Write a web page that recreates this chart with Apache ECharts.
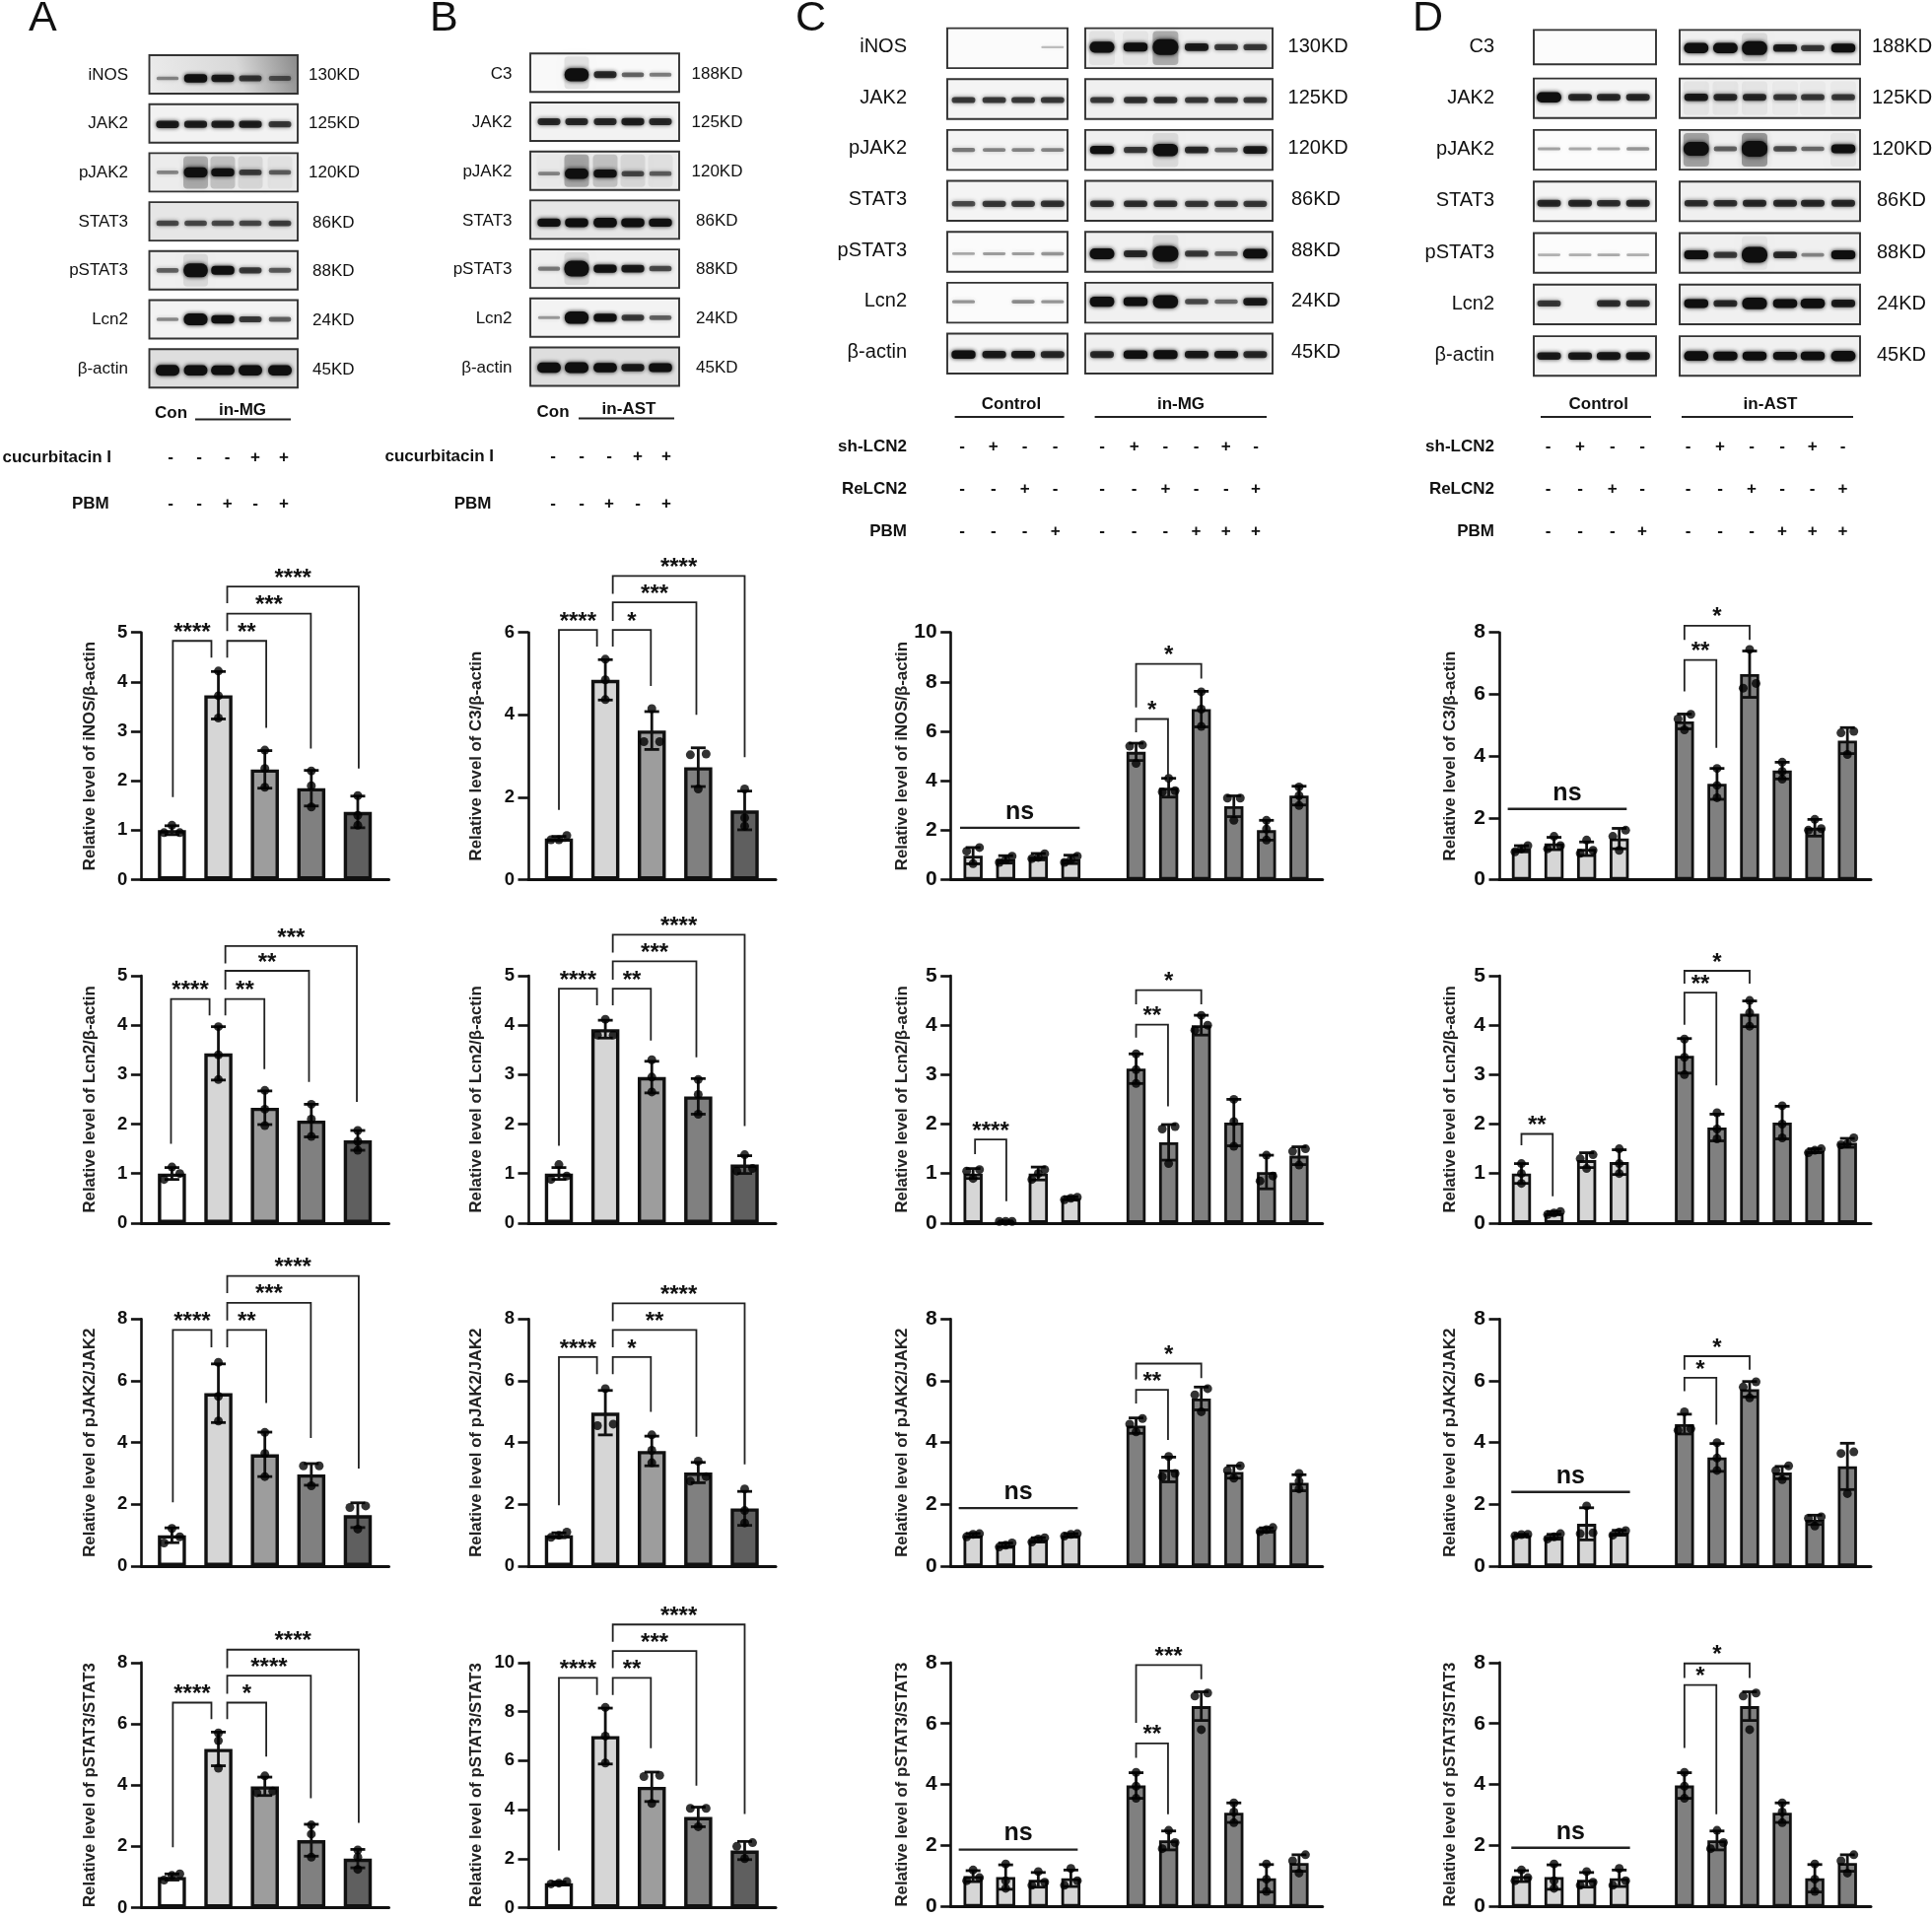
<!DOCTYPE html>
<html><head><meta charset="utf-8">
<style>html,body{margin:0;padding:0;background:#fff}#c{width:1960px;height:1945px;filter:blur(.45px)}</style>
<script src="https://cdn.jsdelivr.net/npm/echarts@6/dist/echarts.min.js"></script>
</head><body><div id="c"></div>
<script>
// ---------- tick / title text ----------
const nameINOS='Relative level of iNOS/β-actin', nameC3='Relative level of C3/β-actin', nameLcn2='Relative level of Lcn2/β-actin',
      namePJ='Relative level of pJAK2/JAK2', namePS='Relative level of pSTAT3/STAT3';
// ---------- bar groups: x positions ----------
const xFive=[1,2,3,4,5], xTen=[1,2,3,4,6,7,8,9,10,11];
const colFive=['#ffffff','#d6d6d6','#9d9d9d','#808080','#5f5f5f'];
const colTen=['#d6d6d6','#d6d6d6','#d6d6d6','#d6d6d6','#808080','#808080','#808080','#808080','#808080','#808080'];
// ---------- panel A ----------
const barsA1=[1,3.73,2.23,1.85,1.37], errsA1=[.09,.48,.38,.36,.32], ptsA1=[[1.1,.95,.95],[4.22,3.72,3.27],[2.62,2.25,1.87],[2.2,1.9,1.47],[1.7,1.3,1.1]];
const barsA2=[1,3.43,2.33,2.07,1.67], errsA2=[.12,.54,.34,.33,.2], ptsA2=[[1.13,1,.88],[3.97,3.4,2.9],[2.68,2.3,1.97],[2.4,2.1,1.75],[1.87,1.65,1.47]];
const barsA3=[1,5.6,3.62,2.97,1.65], errsA3=[.24,.95,.72,.35,.4], ptsA3=[[1.22,.95,.75],[6.6,5.5,4.7],[4.33,3.65,2.9],[3.25,3.25,2.6],[1.95,1.9,1.2]];
const barsA4=[1,5.18,3.96,2.2,1.6], errsA4=[.1,.55,.3,.52,.3], ptsA4=[[1.1,1.05,.9],[5.7,5.45,4.55],[4.3,3.8,3.75],[2.7,2.4,1.65],[1.88,1.65,1.25]];
const brA1=[[1.02,1.85,4.83,1.67,4.49,'****'],[2.19,3.03,4.83,4.49,3.07,'**'],[2.19,3.99,5.38,5.03,2.65,'***'],[2.19,5.02,5.93,5.59,2.25,'****']];
const brA2=[[.98,1.81,4.53,1.6,4.2,'****'],[2.15,2.99,4.53,4.2,3.11,'**'],[2.15,3.95,5.1,4.72,2.85,'**'],[2.15,4.98,5.6,5.25,2.45,'***']];
const brA3=[[1.02,1.85,7.65,2.07,7.09,'****'],[2.19,3.03,7.65,7.09,5.28,'**'],[2.19,3.99,8.53,7.96,4.15,'***'],[2.19,5.02,9.4,8.84,3.16,'****']];
const brA4=[[1.02,1.85,6.69,1.97,6.15,'****'],[2.19,3.03,6.69,6.15,4.93,'*'],[2.19,3.99,7.57,6.98,3.57,'****'],[2.19,5.02,8.42,7.82,2.77,'****']];
// ---------- panel B ----------
const barsB1=[1,4.85,3.62,2.73,1.68], errsB1=[.05,.49,.46,.47,.47], ptsB1=[[1.07,.97,.97],[5.35,4.85,4.37],[4.15,3.35,3.35],[3.05,3.03,2.2],[2.2,1.5,1.3]];
const barsB2=[1,3.92,2.95,2.56,1.18], errsB2=[.12,.18,.32,.36,.18], ptsB2=[[1.18,.95,.88],[4.12,3.8,3.8],[3.3,2.95,2.65],[2.9,2.6,2.2],[1.38,1.1,1.05]];
const barsB3=[1,4.97,3.73,3.03,1.87], errsB3=[.08,.72,.48,.33,.55], ptsB3=[[1.1,1,.93],[5.75,4.6,4.55],[4.25,3.75,3.35],[3.4,2.9,2.75],[2.5,1.8,1.4]];
const barsB4=[1,7,4.93,3.7,2.33], errsB4=[.05,1.14,.6,.4,.37], ptsB4=[[1.07,1,.97],[8.17,7,5.9],[5.4,5.35,4.25],[4.05,4.05,3.3],[2.65,2.5,2]];
const brB1=[[1,1.82,6.06,1.69,5.66,'****'],[2.16,2.98,6.06,5.66,4.7,'*'],[2.16,3.96,6.73,6.28,4,'***'],[2.16,5,7.37,6.94,2.97,'****']];
const brB2=[[1,1.82,4.74,1.56,4.4,'****'],[2.16,2.98,4.74,4.4,3.69,'**'],[2.16,3.96,5.29,4.92,3.35,'***'],[2.16,5,5.83,5.47,1.96,'****']];
const brB3=[[1,1.82,6.77,1.97,6.22,'****'],[2.16,2.98,6.77,6.22,5,'*'],[2.16,3.96,7.65,7.09,4.19,'**'],[2.16,5,8.51,7.93,3.3,'****']];
const brB4=[[1,1.82,9.37,2.33,8.68,'****'],[2.16,2.98,9.37,8.68,6.5,'**'],[2.16,3.96,10.47,9.77,4.98,'***'],[2.16,5,11.55,10.85,3.82,'****']];
// ---------- panel C ----------
const barsC1=[.97,.82,.93,.82,5.17,3.72,6.9,2.97,2,3.4], errsC1=[.33,.15,.13,.17,.35,.38,.72,.42,.4,.38];
const ptsC1=[[1.3,1.15,.65],[.95,.8,.7],[1.05,.9,.85],[.95,.8,.7],[5.45,5.4,4.7],[4.1,3.6,3.55],[7.6,6.9,6.2],[3.3,3.3,2.4],[2.4,2.05,1.6],[3.75,3.4,3]];
const barsC2=[1,.03,1,.5,3.12,1.63,4,2.03,1.03,1.36], errsC2=[.1,.01,.13,.03,.3,.36,.2,.47,.34,.18];
const ptsC2=[[1.08,1.05,.9],[.03,.03,.03],[1.08,1,.88],[.52,.5,.47],[3.42,3.1,2.82],[1.95,1.9,1.2],[4.2,4,3.9],[2.5,2.05,1.55],[1.37,.95,.85],[1.5,1.45,1.17]];
const barsC3=[1,.68,.85,1,4.55,3.13,5.43,3.05,1.17,2.7], errsC3=[.06,.07,.07,.05,.25,.4,.37,.2,.07,.26];
const ptsC3=[[1.05,1.03,.95],[.75,.68,.62],[.92,.88,.78],[1.05,1.03,.97],[4.78,4.6,4.35],[3.55,3,2.9],[5.75,5.55,5],[3.25,3.1,2.85],[1.25,1.18,1.12],[3,2.75,2.5]];
const barsC4=[1,.97,.88,.93,3.97,2.17,6.57,3.08,.93,1.43], errsC4=[.18,.4,.24,.27,.42,.31,.47,.32,.45,.27];
const ptsC4=[[1.2,.95,.85],[1.4,.85,.6],[1.15,.8,.7],[1.25,.85,.7],[4.4,3.95,3.55],[2.5,2.1,1.9],[7,6.9,5.8],[3.4,3.1,2.75],[1.4,.9,.5],[1.7,1.5,1.1]];
const brC1=[[6,6.98,6.5,5.96,3.97,'*'],[6,8,8.73,6.97,8.13,'*']], nsC1=[.6,4.27,2.1];
const brC2=[[1.06,2.02,1.69,1.39,.44,'****'],[6,6.98,4.01,3.75,2.36,'**'],[6,8,4.71,4.42,4.42,'*']];
const brC3=[[6,6.98,5.71,5.27,4.09,'**'],[6,8,6.56,6.05,6.09,'*']], nsC3=[.56,4.21,1.88];
const brC4=[[6,6.98,5.35,4.88,3.03,'**'],[6,8,7.92,6.02,7.45,'***']], nsC4=[.56,4.21,1.87];
// ---------- panel D ----------
const barsD1=[1,1.17,1,1.33,5.12,3.1,6.65,3.53,1.68,4.5], errsD1=[.1,.2,.22,.33,.24,.5,.75,.27,.27,.42];
const ptsD1=[[1.1,1,.9],[1.4,1.1,1],[1.28,.95,.85],[1.6,1.4,.95],[5.35,5.2,4.85],[3.6,3.05,2.65],[7.45,6.35,6.2],[3.8,3.5,3.25],[1.95,1.65,1.6],[4.8,4.75,4.05]];
const barsD2=[1,.2,1.27,1.23,3.38,1.93,4.23,2.03,1.46,1.62], errsD2=[.2,.03,.15,.25,.35,.27,.26,.33,.04,.09];
const ptsD2=[[1.2,1,.8],[.23,.2,.17],[1.38,1.3,1.1],[1.5,1.2,1],[3.72,3.35,3],[2.23,1.9,1.7],[4.5,4.25,3.98],[2.37,2,1.72],[1.5,1.47,1.42],[1.72,1.6,1.58]];
const barsD3=[1,.95,1.37,1.08,4.6,3.52,5.73,3.03,1.5,3.23], errsD3=[.03,.08,.52,.08,.32,.45,.25,.2,.15,.75];
const ptsD3=[[1.03,1.02,.98],[1.05,.95,.88],[1.95,1.08,1.05],[1.15,1.1,1],[5,4.45,4.4],[4,3.5,3.1],[5.97,5.8,5.45],[3.25,3.1,2.8],[1.6,1.55,1.3],[3.7,3.65,2.35]];
const barsD4=[1,.97,.88,.93,3.97,2.17,6.57,3.08,.93,1.43], errsD4=[.18,.4,.24,.27,.42,.31,.47,.32,.45,.27];
const ptsD4=[[1.2,.95,.85],[1.4,.85,.6],[1.15,.8,.7],[1.25,.85,.7],[4.4,3.95,3.55],[2.5,2.1,1.9],[7,6.9,5.8],[3.4,3.1,2.75],[1.4,.9,.5],[1.7,1.5,1.1]];
const brD1=[[6,6.98,7.11,6.09,4.27,'**'],[6,8,8.22,7.76,7.76,'*']], nsD1=[.58,4.23,2.29];
const brD2=[[1,1.96,1.8,1.57,.54,'**'],[6,6.98,4.66,4.01,2.78,'**'],[6,8,5.1,4.84,4.84,'*']];
const brD3=[[6,6.98,6.1,5.67,4.58,'*'],[6,8,6.8,6.36,6.36,'*']], nsD3=[.69,4.33,2.4];
const brD4=[[6,6.98,7.26,5.2,3.03,'*'],[6,8,7.97,7.49,7.49,'*']], nsD4=[.69,4.33,1.93];
// ---------- blot band strengths, per lane ----------
const blotNamesAC=['iNOS','JAK2','pJAK2','STAT3','pSTAT3','Lcn2','β-actin'];
const blotNamesBD=['C3','JAK2','pJAK2','STAT3','pSTAT3','Lcn2','β-actin'];
const kdAC=['130KD','125KD','120KD','86KD','88KD','24KD','45KD'];
const kdBD=['188KD','125KD','120KD','86KD','88KD','24KD','45KD'];
const bandsA=[[.12,.45,.4,.3,.2],[.4,.38,.38,.38,.3],[.12,.6,.45,.28,.2],[.25,.25,.25,.25,.28],[.2,.85,.5,.3,.22],[.12,.7,.45,.3,.2],[.65,.6,.55,.6,.6]];
const bandsB=[[0,.8,.35,.2,.15],[.35,.35,.35,.38,.35],[.12,.6,.45,.25,.2],[.45,.5,.55,.5,.45],[.15,1,.45,.4,.25],[.08,.75,.45,.3,.2],[.6,.65,.55,.4,.5]];
const bandsC1=[[0,0,0,.015],[.3,.3,.3,.3],[.15,.13,.13,.13],[.25,.3,.3,.32],[.06,.08,.08,.1],[.1,0,.12,.1],[.45,.4,.4,.35]];
const bandsC2=[[.65,.5,1,.4,.3,.3],[.3,.32,.33,.3,.3,.3],[.45,.3,.75,.35,.2,.4],[.33,.33,.33,.3,.3,.3],[.65,.35,1,.3,.2,.55],[.6,.5,.8,.25,.18,.4],[.35,.45,.5,.4,.4,.35]];
const bandsD1=[[0,0,0,0],[.6,.35,.35,.35],[.07,.06,.06,.1],[.35,.35,.33,.35],[.04,.05,.06,.05],[.3,0,.33,.33],[.4,.4,.42,.42]];
const bandsD2=[[.6,.6,.85,.4,.3,.5],[.4,.35,.35,.3,.3,.3],[.85,.2,1,.25,.18,.5],[.33,.33,.35,.35,.35,.35],[.5,.3,1,.35,.13,.5],[.5,.35,.7,.5,.55,.4],[.55,.5,.5,.45,.48,.6]];
const smearA=[[0,0,0,0,0],[0,0,0,0,0],[0,.3,.2,.1,.05],[0,0,0,0,0],[0,.1,0,0,0],[0,0,0,0,0],[0,0,0,0,0]];
const smearB=[[0,.1,0,0,0],[0,0,0,0,0],[.02,.32,.2,.1,.06],[0,0,0,0,0],[0,.1,0,0,0],[0,0,0,0,0],[0,0,0,0,0]];
const smearC2=[[.06,.05,.3,0,0,0],[0,0,0,0,0,0],[0,0,.1,0,0,0],[0,0,0,0,0,0],[0,0,.1,0,0,0],[0,0,0,0,0,0],[0,0,0,0,0,0]];
const smearD2=[[0,0,.1,0,0,0],[.05,.05,.05,.03,.03,.03],[.35,0,.4,0,0,.05],[0,0,0,0,0,0],[0,0,.05,0,0,0],[0,0,0,0,0,0],[0,0,0,0,0,0]];
// ---------- treatment rows ----------
const cuc=['-','-','-','+','+'], pbmFive=['-','-','+','-','+'];
const shLcn=['-','+','-','-','-','+','-','-','+','-'], reLcn=['-','-','+','-','-','-','+','-','-','+'], pbmTen=['-','-','-','+','-','-','-','+','+','+'];

const FF='"Liberation Sans",Arial,sans-serif', FN='"Liberation Sans Narrow","Liberation Sans",Arial,sans-serif';
const rowsY=[[641.7,892.5],[990,1240.8],[1338.4,1589],[1686.8,1937.6]];
const cols={A:[143.4,394.5],B:[536,787],C:[964.7,1341.7],D:[1521,1898]};

const charts=[
 ['A',0,nameINOS,5,1,barsA1,errsA1,ptsA1,brA1],['A',1,nameLcn2,5,1,barsA2,errsA2,ptsA2,brA2],['A',2,namePJ,8,2,barsA3,errsA3,ptsA3,brA3],['A',3,namePS,8,2,barsA4,errsA4,ptsA4,brA4],
 ['B',0,nameC3,6,2,barsB1,errsB1,ptsB1,brB1],['B',1,nameLcn2,5,1,barsB2,errsB2,ptsB2,brB2],['B',2,namePJ,8,2,barsB3,errsB3,ptsB3,brB3],['B',3,namePS,10,2,barsB4,errsB4,ptsB4,brB4],
 ['C',0,nameINOS,10,2,barsC1,errsC1,ptsC1,brC1,nsC1],['C',1,nameLcn2,5,1,barsC2,errsC2,ptsC2,brC2],['C',2,namePJ,8,2,barsC3,errsC3,ptsC3,brC3,nsC3],['C',3,namePS,8,2,barsC4,errsC4,ptsC4,brC4,nsC4],
 ['D',0,nameC3,8,2,barsD1,errsD1,ptsD1,brD1,nsD1],['D',1,nameLcn2,5,1,barsD2,errsD2,ptsD2,brD2],['D',2,namePJ,8,2,barsD3,errsD3,ptsD3,brD3,nsD3],['D',3,namePS,8,2,barsD4,errsD4,ptsD4,brD4,nsD4]
];

const grid=[],xAxis=[],yAxis=[],series=[];
function swarm(vals,thresh,off){
  const idx=vals.map((v,i)=>[v,i]).sort((a,b)=>a[0]-b[0]);const res=new Array(vals.length).fill(0);let g=[idx[0]];
  const flush=()=>{g.forEach((e,k)=>{res[e[1]]=g.length===1?0:(k/(g.length-1)*2-1)*off;});};
  for(let i=1;i<idx.length;i++){if(idx[i][0]-g[g.length-1][0]<thresh)g.push(idx[i]);else{flush();g=[idx[i]];}}
  flush();return res;
}
charts.forEach((c,n)=>{
  const [col,row,name,max,step,bars,errs,pts,br,ns]=c;
  const five=bars.length===5, xs=five?xFive:xTen, colors=five?colFive:colTen;
  const [l,r]=cols[col],[t,b]=rowsY[row];
  grid.push({left:l,width:r-l,top:t,height:b-t,containLabel:false});
  const xmin=five?.342:.32,xmax=five?5.669:11.72;
  xAxis.push({type:'value',gridIndex:n,min:xmin,max:xmax,axisLine:{show:true,onZero:false,lineStyle:{color:'#111',width:3}},axisTick:{show:false},axisLabel:{show:false},splitLine:{show:false}});
  yAxis.push({type:'value',gridIndex:n,min:0,max:max,interval:step,name:name,nameLocation:'middle',nameGap:five?44:41,nameRotate:90,
    nameTextStyle:{fontFamily:FF,fontWeight:'bold',fontSize:16.8,color:'#222'},
    axisLine:{show:true,onZero:false,lineStyle:{color:'#111',width:2.6}},axisTick:{show:true,length:10.5,lineStyle:{color:'#111',width:2.6}},
    axisLabel:{margin:14,fontFamily:five?FF:FN,fontWeight:'bold',fontSize:five?18.5:21,color:'#111'},splitLine:{show:false}});
  const barW=five?28.5:19.4,bw=five?3.4:2.8;
  series.push({type:'bar',xAxisIndex:n,yAxisIndex:n,barWidth:barW,silent:true,animation:false,
    data:bars.map((v,i)=>({value:[xs[i],v],itemStyle:{color:colors[i],borderColor:'#111',borderWidth:bw}}))});
  const cap=7.5;
  series.push({type:'custom',xAxisIndex:n,yAxisIndex:n,silent:true,animation:false,z:3,
    data:bars.map((v,i)=>[xs[i],v,errs[i]]),
    renderItem:(p,api)=>{const x=api.value(0),v=api.value(1),e=api.value(2);const a=api.coord([x,v+e]),d=api.coord([x,v-e]);
      const st={stroke:'#111',lineWidth:2.8,fill:null};
      return {type:'group',children:[
        {type:'line',shape:{x1:a[0],y1:a[1],x2:d[0],y2:d[1]},style:st},
        {type:'line',shape:{x1:a[0]-cap,y1:a[1],x2:a[0]+cap,y2:a[1]},style:st},
        {type:'line',shape:{x1:d[0]-cap,y1:d[1],x2:d[0]+cap,y2:d[1]},style:st}]};}});
  const stepPx=(r-l)/(xmax-xmin),offPx=five?8:6.5,scat=[];
  pts.forEach((arr,i)=>{const o=swarm(arr,6.5/(b-t)*max,offPx/stepPx);arr.forEach((v,k)=>scat.push([xs[i]+o[k],v]));});
  series.push({type:'scatter',xAxisIndex:n,yAxisIndex:n,symbol:'circle',symbolSize:9,silent:true,animation:false,z:4,itemStyle:{color:'#000'},clip:false,data:scat});
  series.push({type:'custom',xAxisIndex:n,yAxisIndex:n,silent:true,animation:false,z:5,clip:false,
    data:br.map(q=>[q[0],q[2]]),
    renderItem:(p,api)=>{const q=br[p.dataIndex];const A=api.coord([q[0],q[3]]),B=api.coord([q[0],q[2]]),C=api.coord([q[1],q[2]]),D=api.coord([q[1],q[4]]);
      return {type:'group',children:[
        {type:'polyline',shape:{points:[A,B,C,D]},style:{stroke:'#222',lineWidth:1.8,fill:null}},
        {type:'text',style:{text:q[5],x:(B[0]+C[0])/2,y:B[1]-8,textAlign:'center',textVerticalAlign:'middle',font:'bold 24px '+FF,fill:'#111'}}]};}});
  if(ns){series.push({type:'custom',xAxisIndex:n,yAxisIndex:n,silent:true,animation:false,z:5,clip:false,
    data:[[ns[0],ns[2]]],
    renderItem:(p,api)=>{const A=api.coord([ns[0],ns[2]]),B=api.coord([ns[1],ns[2]]);
      return {type:'group',children:[
        {type:'line',shape:{x1:A[0],y1:A[1],x2:B[0],y2:B[1]},style:{stroke:'#222',lineWidth:2.4}},
        {type:'text',style:{text:'ns',x:(A[0]+B[0])/2,y:A[1]-16,textAlign:'center',textVerticalAlign:'middle',font:'bold 25px '+FN,fill:'#111'}}]};}});}
});

// ---------- blots and labels as graphics ----------
const g=[];
function txt(text,x,y,font,align){g.push({type:'text',silent:true,z:10,style:{text,x,y,font,fill:'#111',textAlign:align||'left',textVerticalAlign:'middle'}});}
function box(x1,x2,y1,y2,bands,smear,lanes,bw,fill,dy){
  g.push({type:'rect',silent:true,z:1,shape:{x:x1,y:y1,width:x2-x1,height:y2-y1},style:{fill:fill,stroke:'none'}});
  const cy=(y1+y2)/2+dy;
  if(smear)smear.forEach((a,i)=>{if(a>0)g.push({type:'rect',silent:true,z:2,shape:{x:lanes[i]-bw/2,y:y1+3,width:bw,height:y2-y1-6,r:4},style:{fill:'rgba(40,40,40,'+a+')',shadowBlur:6,shadowColor:'rgba(40,40,40,'+a+')'}});});
  bands.forEach((s,i)=>{if(s<=0)return;const h=2+s*14,al=Math.min(1,.22+s*1.7),w=bw*(.88+s*.12),c='rgba(15,15,15,'+al.toFixed(2)+')';
    g.push({type:'rect',silent:true,z:3,shape:{x:lanes[i]-w/2,y:cy-h/2,width:w,height:h,r:h/2.2},style:{fill:c,shadowBlur:4,shadowColor:c}});});
  g.push({type:'rect',silent:true,z:4,shape:{x:x1,y:y1,width:x2-x1,height:y2-y1},style:{fill:'none',stroke:'#333',lineWidth:1.9}});
}
const bgRows=['#f1f1f1','#f2f2f2','#ececec','#e6e6e6','#efefef','#f3f3f3','#dedede'];
const inosGrad={type:'linear',x:0,y:1,x2:1,y2:0,colorStops:[{offset:0,color:'#ececec'},{offset:.6,color:'#d8d8d8'},{offset:1,color:'#8a8a8a'}]};
const lanesA=[170,198.5,226,254,284],lanesB=[557,585,614,642,670];
const lanesC1=[977.5,1008.6,1038,1067.8],lanesC2=[1118,1152,1182.4,1214,1244,1273.4];
const lanesD1=[1571.5,1603,1632,1661.7],lanesD2=[1720.8,1750.4,1780,1811,1839,1870];
const dyA=[4,1,0,2,0,0,2],dyB=[2,0,3,3,0,0,1],dyC=[-1,1,0,3,2,-1,1],dyD=[1,-1,-1,2,2,-1,0];
for(let i=0;i<7;i++){
  // A
  let y=56+49.7*i; box(151.5,302,y,y+39,bandsA[i],smearA[i],lanesA,25,i===0?inosGrad:bgRows[i],dyA[i]);
  txt(blotNamesAC[i],130,y+20,'17px '+FF,'right'); txt(kdAC[i],i<3?313:317,y+20+(i>2?1:0),'17px '+FF);
  // B
  y=54.3+49.7*i; box(538,689,y,y+39,bandsB[i],smearB[i],lanesB,25,i===0?'#f9f9f9':bgRows[i],dyB[i]);
  txt(blotNamesBD[i],519.5,y+20.7,'17px '+FF,'right'); txt(kdBD[i],i<3?701.5:706,y+20.7,'17px '+FF);
  // C
  y=28.6+51.65*i; const bg=i===0?'#fbfbfb':'#f4f4f4';
  box(961,1083,y,y+40.5,bandsC1[i],null,lanesC1,26,i===4||i===5?'#fbfbfb':bg,dyC[i]);
  box(1101,1291,y,y+40.5,bandsC2[i],smearC2[i],lanesC2,26,'#f0f0f0',dyC[i]);
  txt(blotNamesAC[i],920,y+19,'20px '+FF,'right'); txt(kdAC[i],i<3?1306.6:1310,y+19,'20px '+FF);
  // D
  y=i===0?30.4:79.6+52.3*(i-1); const hD=i===0?34.8:40.2;
  box(1556,1680,y,y+hD,bandsD1[i],null,lanesD1,26,i===0||i===2||i===4?'#fcfcfc':'#f5f5f5',dyD[i]);
  box(1704,1887,y,y+hD,bandsD2[i],smearD2[i],lanesD2,26,'#f0f0f0',dyD[i]);
  txt(blotNamesBD[i],1516,y+hD/2-.5,'20px '+FF,'right'); txt(kdBD[i],i<3?1899:1904,y+hD/2-.5,'20px '+FF);
}
[['A',29],['B',436],['C',807],['D',1433]].forEach(p=>g.push({type:'text',silent:true,z:10,style:{text:p[0],x:p[1],y:41,font:'43px '+FF,fill:'#111',textAlign:'left',textVerticalAlign:'bottom'}}));
const B17='bold 17px '+FF;
txt('Con',173.5,419,B17,'center');txt('in-MG',246,416,B17,'center');txt('Con',561,418,B17,'center');txt('in-AST',638,415,B17,'center');
txt('Control',1026,410.6,B17,'center');txt('in-MG',1198,410.6,B17,'center');txt('Control',1621.7,410.6,B17,'center');txt('in-AST',1796,410.6,B17,'center');
function hl(x1,x2,y){g.push({type:'line',silent:true,z:10,shape:{x1,y1:y,x2,y2:y},style:{stroke:'#222',lineWidth:2}});}
hl(198,295,425.4);hl(587,684,424.6);hl(968.6,1079.6,423);hl(1110.6,1285,423);hl(1563,1675,423);hl(1706,1880,423);
function marks(arr,xs,y){arr.forEach((m,i)=>txt(m,xs[i],y,'bold 17px '+FF,'center'));}
const symA=[173,202,230.6,259,288],symB=[561,590,618,647,676];
const symC=[976,1007.8,1039.6,1070.7,1118,1150.6,1182.4,1213.5,1243.8,1274],symD=[1570.7,1603,1635.8,1666,1712.7,1745,1777,1808,1838.6,1869.5];
txt('cucurbitacin I',113,464,B17,'right');txt('PBM',110.7,511,B17,'right');marks(cuc,symA,464);marks(pbmFive,symA,511);
txt('cucurbitacin I',501,463.6,B17,'right');txt('PBM',498.5,511,B17,'right');marks(cuc,symB,463.6);marks(pbmFive,symB,511);
txt('sh-LCN2',920,453,B17,'right');txt('ReLCN2',920,496.4,B17,'right');txt('PBM',920,539.3,B17,'right');marks(shLcn,symC,453);marks(reLcn,symC,496.4);marks(pbmTen,symC,539.3);
txt('sh-LCN2',1516,453,B17,'right');txt('ReLCN2',1516,496.4,B17,'right');txt('PBM',1516,539.3,B17,'right');marks(shLcn,symD,453);marks(reLcn,symD,496.4);marks(pbmTen,symD,539.3);

const chart=echarts.init(document.getElementById('c'),null,{renderer:'canvas',width:1960,height:1945});
chart.setOption({backgroundColor:'#fff',animation:false,grid,xAxis,yAxis,series,graphic:{elements:g}});
</script></body></html>
